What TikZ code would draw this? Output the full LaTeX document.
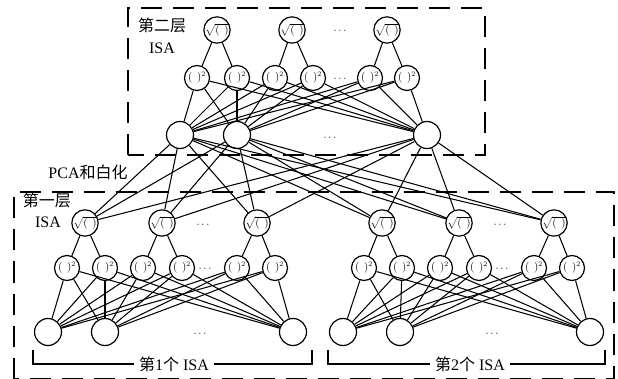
\documentclass[tikz,border=0pt]{standalone}
\usepackage{fontspec}
\setmainfont{Liberation Serif}
\newfontfamily\cjk{Noto Sans CJK SC}
\begin{document}
\begin{tikzpicture}[x=1pt,y=-1pt,
  unit/.style={circle,draw,line width=1.2pt,minimum size=25pt,inner sep=0pt,fill=white,font=\fontsize{10.5}{10.5}\selectfont},
  inunit/.style={circle,draw,line width=1.2pt,minimum size=27pt,inner sep=0pt,fill=white},
  link/.style={line width=1.05pt},
  frame/.style={line width=1.3pt,dash pattern=on 21pt off 11pt},
  lbl/.style={font=\fontsize{16}{16}\selectfont,inner sep=0pt},
  dots/.style={font=\fontsize{11}{11}\selectfont,inner sep=0pt}]
\useasboundingbox (0,0) rectangle (618,379);

% dashed frames of the two layers
\draw[frame] (128,155) -- (128,8) -- (485,8) -- (485,155) -- cycle;
\draw[frame] (14,378.5) -- (14,192) -- (614,192) -- (614,378.5) -- cycle;

% second layer
\foreach \n/\x in {1/217,2/292,3/387}
  \node[unit] (Tr\n) at (\x,30) {$\sqrt{(\;\,)}$};
\foreach \n/\x in {1/197,2/237,3/275,4/313,5/370,6/407}
  \node[unit] (Ts\n) at (\x,78) {$(\;\,)^2$};
\foreach \n/\x in {1/180,2/237,3/427}
  \node[inunit] (Tc\n) at (\x,135) {};
\node[dots] (Tdr) at (340,31) {$\cdots$};
\node[dots] (Tds) at (340,79) {$\cdots$};
\node[dots] (Tdc) at (330,138) {$\cdots$};

% first layer, two ISA blocks
\foreach \b/\o in {L/0,R/297}{
  \foreach \n/\x in {1/85,2/162,3/257}
    \node[unit] (\b r\n) at (\x+\o,223) {$\sqrt{(\;\,)}$};
  \foreach \n/\x in {1/67,2/105,3/143,4/182,5/237,6/275}
    \node[unit] (\b s\n) at (\x+\o,268) {$(\;\,)^2$};
  \node[dots] (\b dr) at (203+\o,225) {$\cdots$};
  \node[dots] (\b ds) at (205+\o,269) {$\cdots$};
}
\foreach \n/\x in {1/48,2/105,3/293}
  \node[inunit] (Lc\n) at (\x,332) {};
\foreach \n/\x in {1/343,2/400,3/590}
  \node[inunit] (Rc\n) at (\x,332) {};
\node[dots] (Ldc) at (200,334) {$\cdots$};
\node[dots] (Rdc) at (492,334) {$\cdots$};

% connections inside each ISA block
\foreach \b in {T,L,R}{
  \foreach \r/\s in {1/1,1/2,2/3,2/4,3/5,3/6}
    \draw[link] (\b r\r) -- (\b s\s);
  \foreach \s in {1,...,6}
    \foreach \c in {1,2,3}
      \draw[link] (\b s\s) -- (\b c\c);
}
% PCA and whitening: full connection between the layers
\foreach \c in {1,2,3}
  \foreach \b in {L,R}
    \foreach \r in {1,2,3}
      \draw[link] (Tc\c) -- (\b r\r);

% labels
\node[lbl] (t2a) at (162,25) {\cjk 第二层};
\node[lbl] (t2b) at (162,48) {ISA};
\node[lbl] (t1a) at (47,200) {\cjk 第一层};
\node[lbl] (t1b) at (48,222) {ISA};
\node[lbl] (pca) at (88,172) {PCA\cjk 和白化};

% brackets under the two ISA blocks
\node[lbl,fill=white,inner xsep=5pt] (b1) at (174,364) {\cjk 第\rmfamily 1\cjk 个\rmfamily\ ISA};
\node[lbl,fill=white,inner xsep=5pt] (b2) at (470,364) {\cjk 第\rmfamily 2\cjk 个\rmfamily\ ISA};
\coordinate (b1l) at (33,350);
\coordinate (b1r) at (312,350);
\coordinate (b2l) at (328,350);
\coordinate (b2r) at (605,350);
\draw[line width=1.1pt] (b1l) |- (b1.west);
\draw[line width=1.1pt] (b1r) |- (b1.east);
\draw[line width=1.1pt] (b2l) |- (b2.west);
\draw[line width=1.1pt] (b2r) |- (b2.east);
\end{tikzpicture}
\end{document}
